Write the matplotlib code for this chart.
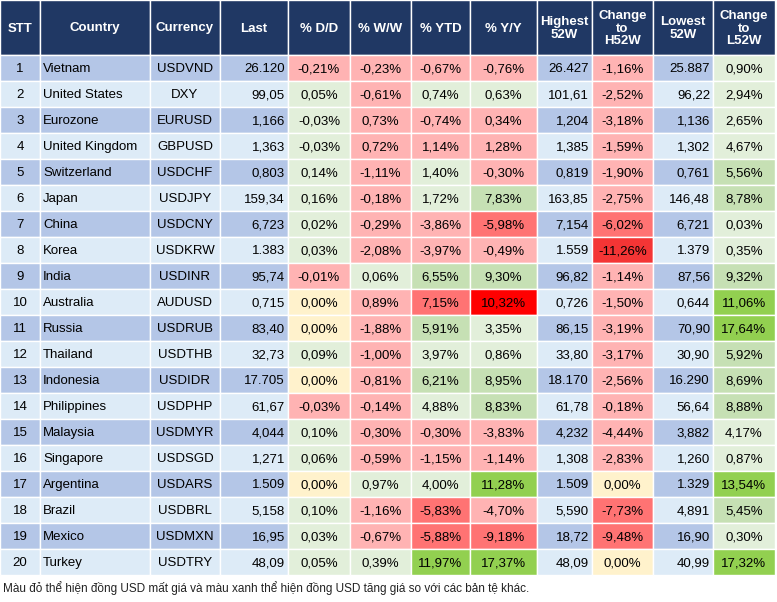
import matplotlib
matplotlib.use("Agg")
import matplotlib.pyplot as plt
from matplotlib.patches import Rectangle

plt.rcParams['font.family'] = ['Liberation Sans', 'DejaVu Sans']

# --- dados ---
headers = ["STT", "Country", "Currency", "Last", "% D/D", "% W/W", "% YTD", "% Y/Y",
           "Highest\n52W", "Change\nto\nH52W", "Lowest\n52W", "Change\nto\nL52W"]
countries = ["Vietnam", "United States", "Eurozone", "United Kingdom", "Switzerland", "Japan",
             "China", "Korea", "India", "Australia", "Russia", "Thailand", "Indonesia",
             "Philippines", "Malaysia", "Singapore", "Argentina", "Brazil", "Mexico", "Turkey"]
currencies = ["USDVND", "DXY", "EURUSD", "GBPUSD", "USDCHF", "USDJPY", "USDCNY", "USDKRW",
              "USDINR", "AUDUSD", "USDRUB", "USDTHB", "USDIDR", "USDPHP", "USDMYR", "USDSGD",
              "USDARS", "USDBRL", "USDMXN", "USDTRY"]
last = ["26.120", "99,05", "1,166", "1,363", "0,803", "159,34", "6,723", "1.383", "95,74", "0,715",
        "83,40", "32,73", "17.705", "61,67", "4,044", "1,271", "1.509", "5,158", "16,95", "48,09"]
dd = ["-0,21%", "0,05%", "-0,03%", "-0,03%", "0,14%", "0,16%", "0,02%", "0,03%", "-0,01%", "0,00%",
      "0,00%", "0,09%", "0,00%", "-0,03%", "0,10%", "0,06%", "0,00%", "0,10%", "0,03%", "0,05%"]
ww = ["-0,23%", "-0,61%", "0,73%", "0,72%", "-1,11%", "-0,18%", "-0,29%", "-2,08%", "0,06%", "0,89%",
      "-1,88%", "-1,00%", "-0,81%", "-0,14%", "-0,30%", "-0,59%", "0,97%", "-1,16%", "-0,67%", "0,39%"]
ytd = ["-0,67%", "0,74%", "-0,74%", "1,14%", "1,40%", "1,72%", "-3,86%", "-3,97%", "6,55%", "7,15%",
       "5,91%", "3,97%", "6,21%", "4,88%", "-0,30%", "-1,15%", "4,00%", "-5,83%", "-5,88%", "11,97%"]
yy = ["-0,76%", "0,63%", "0,34%", "1,28%", "-0,30%", "7,83%", "-5,98%", "-0,49%", "9,30%", "10,32%",
      "3,35%", "0,86%", "8,95%", "8,83%", "-3,83%", "-1,14%", "11,28%", "-4,70%", "-9,18%", "17,37%"]
high52 = ["26.427", "101,61", "1,204", "1,385", "0,819", "163,85", "7,154", "1.559", "96,82", "0,726",
          "86,15", "33,80", "18.170", "61,78", "4,232", "1,308", "1.509", "5,590", "18,72", "48,09"]
ch_h = ["-1,16%", "-2,52%", "-3,18%", "-1,59%", "-1,90%", "-2,75%", "-6,02%", "-11,26%", "-1,14%", "-1,50%",
        "-3,19%", "-3,17%", "-2,56%", "-0,18%", "-4,44%", "-2,83%", "0,00%", "-7,73%", "-9,48%", "0,00%"]
low52 = ["25.887", "96,22", "1,136", "1,302", "0,761", "146,48", "6,721", "1.379", "87,56", "0,644",
         "70,90", "30,90", "16.290", "56,64", "3,882", "1,260", "1.329", "4,891", "16,90", "40,99"]
ch_l = ["0,90%", "2,94%", "2,65%", "4,67%", "5,56%", "8,78%", "0,03%", "0,35%", "9,32%", "11,06%",
        "17,64%", "5,92%", "8,69%", "8,88%", "4,17%", "0,87%", "13,54%", "5,45%", "0,30%", "17,32%"]

# mức màu của 6 cột phần trăm: DD WW YTD YY H52 L52
cell_levels = [
    "r1 r1 r1 r1 r1 g1", "g1 r1 g1 g1 r1 g1", "g1 r1 r1 r1 r1 g1", "g1 r1 r1 r1 r1 g1",
    "g1 r1 g1 r1 r1 g2", "g1 r1 g1 g2 r1 g2", "g1 r1 r1 r2 r2 g1", "g1 r1 r1 r1 r3 g1",
    "r1 g1 g2 g2 r1 g2", "y r1 r2 r4 r1 g3", "y r1 g2 g1 r1 g3", "g1 r1 g1 g1 r1 g2",
    "y r1 g2 g2 r1 g2", "r1 r1 g1 g2 r1 g2", "g1 r1 r1 r1 r1 g1", "g1 r1 r1 r1 r1 g1",
    "y g1 g1 g3 y g3", "g1 r1 r2 r1 r2 g2", "g1 r1 r2 r2 r2 g1", "g1 g1 g3 g3 y g3",
]
footer = "Màu đỏ thể hiện đồng USD mất giá và màu xanh thể hiện đồng USD tăng giá so với các bản tệ khác."

PALETTE = {"r1": "#FFB3B3", "r2": "#FF7373", "r3": "#F43535", "r4": "#FF0000",
           "g1": "#E2EFDA", "g2": "#C6E0B4", "g3": "#92D050", "y": "#FFF2CC"}
HEADER = "#203864"
ROW_ODD = "#B4C6E7"
ROW_EVEN = "#DDEBF7"

col_x = [0, 40, 150, 220, 288, 350, 411, 470, 537, 592, 653, 713, 775]
align = ["center", "left", "center", "right", "center", "center", "center", "center",
         "right", "center", "right", "center"]
header_h = 55
row_h = 26
W, H = 777, 602

fig = plt.figure(figsize=(W / 100, H / 100), dpi=100)
ax = fig.add_axes([0, 0, 1, 1])
ax.set_xlim(0, W)
ax.set_ylim(H, 0)
ax.axis("off")

columns = [[str(i + 1) for i in range(20)], countries, currencies, last, dd, ww, ytd, yy,
           high52, ch_h, low52, ch_l]
pct_cols = {4: 0, 5: 1, 6: 2, 7: 3, 9: 4, 11: 5}


def put_text(x0, x1, yc, txt, ha, **kw):
    if ha == "left":
        x = x0 + 3
    elif ha == "right":
        x = x1 - 3
    else:
        x = (x0 + x1) / 2
    ax.text(x, yc, txt, ha=ha, va="center", **kw)


# cabeçalho
for c in range(12):
    x0, x1 = col_x[c], col_x[c + 1]
    ax.add_patch(Rectangle((x0, 0), x1 - x0, header_h, facecolor=HEADER, edgecolor="white", lw=1))
    ax.text((x0 + x1) / 2, header_h / 2 + 1, headers[c], ha="center", va="center",
            color="white", fontweight="bold", fontsize=9.5, linespacing=1.05)

# linhas
for r in range(20):
    y0 = header_h + r * row_h
    base = ROW_ODD if r % 2 == 0 else ROW_EVEN
    levels = cell_levels[r].split()
    for c in range(12):
        x0, x1 = col_x[c], col_x[c + 1]
        fc = PALETTE[levels[pct_cols[c]]] if c in pct_cols else base
        ax.add_patch(Rectangle((x0, y0), x1 - x0, row_h, facecolor=fc, edgecolor="white", lw=1))
        put_text(x0, x1, y0 + row_h / 2 + 1, columns[c][r], align[c], fontsize=9.5, color="black")

ax.text(3, header_h + 20 * row_h + 13, footer, ha="left", va="center", fontsize=8.5, color="#222222")

fig.savefig("out.png", dpi=100)
